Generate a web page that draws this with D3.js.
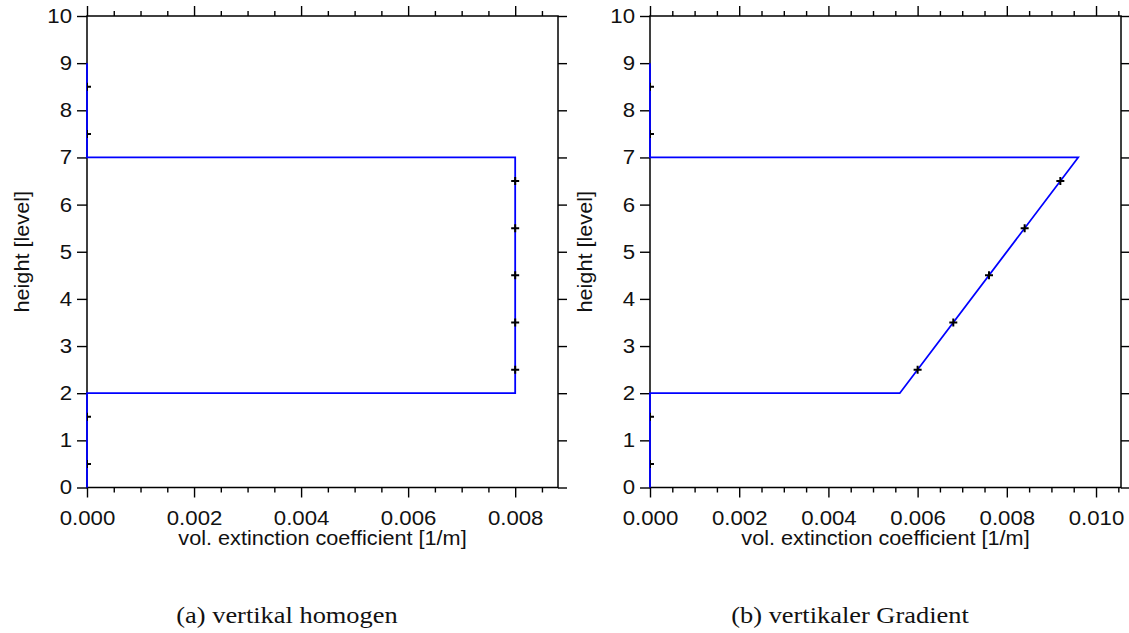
<!DOCTYPE html>
<html>
<head>
<meta charset="utf-8">
<script src="https://cdn.jsdelivr.net/npm/d3@7"></script>
<style>
  html, body { margin: 0; padding: 0; background: #fff; }
  svg { display: block; }
  .tick text { font-family: "Liberation Sans", Arial, Helvetica, sans-serif; }
</style>
</head>
<body>
<svg id="fig" width="1129" height="633"></svg>
<script>
// Height levels and tick values
const heightTicks = [0, 1, 2, 3, 4, 5, 6, 7, 8, 9, 10];
const extTicksA = [0, 0.002, 0.004, 0.006, 0.008];
const extTicksB = [0, 0.002, 0.004, 0.006, 0.008, 0.010];

// Profile outline: levels and extinction at the corners
const profileLevels = [0, 2, 2, 7, 7, 9];
const homogenProfile = [0, 0, 0.008, 0.008, 0, 0];
const gradientProfile = [0, 0, 0.0056, 0.0096, 0, 0];

// Layer mid-points (markers)
const layerLevels = [0.5, 1.5, 2.5, 3.5, 4.5, 5.5, 6.5, 7.5, 8.5];
const homogenLayers = [0, 0, 0.008, 0.008, 0.008, 0.008, 0.008, 0, 0];
const gradientLayers = [0, 0, 0.0060, 0.0068, 0.0076, 0.0084, 0.0092, 0, 0];

const captions = ["(a) vertikal homogen", "(b) vertikaler Gradient"];

const svg = d3.select("#fig");
const plotTop = 16, plotBottom = 487.5, plotW = 471;
const stretch = 1.11; // glyphs are set slightly wide

// widen a text element horizontally by a factor
function widen(sel, k) {
  sel.each(function () {
    const w = this.getComputedTextLength();
    d3.select(this).attr("textLength", w * k).attr("lengthAdjust", "spacingAndGlyphs");
  });
}

const panels = [
  { left: 87, xMax: 0.0088, ticks: extTicksA, profile: homogenProfile, layers: homogenLayers, caption: captions[0], capX: 287 },
  { left: 650, xMax: 0.01056, ticks: extTicksB, profile: gradientProfile, layers: gradientLayers, caption: captions[1], capX: 850 }
];

const fmt = d3.format(".3f");

panels.forEach((p, i) => {
  const x = d3.scaleLinear().domain([0, p.xMax]).range([p.left, p.left + plotW]);
  const y = d3.scaleLinear().domain([0, 10]).range([plotBottom, plotTop]);
  const minor = d3.range(0, p.xMax + 1e-9, 0.0005).filter(v => Math.abs(v / 0.002 - Math.round(v / 0.002)) > 1e-6);

  const g = svg.append("g");

  // minor ticks on bottom and top
  g.append("g").attr("transform", `translate(0,${plotBottom})`)
    .call(d3.axisBottom(x).tickValues(minor).tickSize(5).tickSizeOuter(0).tickFormat(""));
  g.append("g").attr("transform", `translate(0,${plotTop})`)
    .call(d3.axisTop(x).tickValues(minor).tickSize(5).tickSizeOuter(0).tickFormat(""));

  // major ticks
  g.append("g").attr("transform", `translate(0,${plotBottom})`)
    .call(d3.axisBottom(x).tickValues(p.ticks).tickSize(10).tickSizeOuter(0).tickPadding(13).tickFormat(fmt));
  g.append("g").attr("transform", `translate(0,${plotTop})`)
    .call(d3.axisTop(x).tickValues(p.ticks).tickSize(10).tickSizeOuter(0).tickFormat(""));
  g.append("g").attr("transform", `translate(${p.left},0)`)
    .call(d3.axisLeft(y).tickValues(heightTicks).tickSize(10).tickSizeOuter(0).tickPadding(5).tickFormat(d3.format("d")));
  g.append("g").attr("transform", `translate(${p.left + plotW},0)`)
    .call(d3.axisRight(y).tickValues(heightTicks).tickSize(9).tickSizeOuter(0).tickFormat(""));

  g.selectAll(".domain").remove();
  g.selectAll(".tick line").attr("stroke", "#000").attr("stroke-width", 1.4);
  g.selectAll(".tick text").attr("font-size", 20).attr("fill", "#111").call(widen, stretch);

  // plot frame
  g.append("rect")
    .attr("x", p.left).attr("y", plotTop)
    .attr("width", plotW).attr("height", plotBottom - plotTop)
    .attr("fill", "none").attr("stroke", "#000").attr("stroke-width", 1.5);

  // axis titles
  g.append("text")
    .attr("x", p.left + plotW / 2).attr("y", 545)
    .attr("text-anchor", "middle")
    .attr("font-family", "Liberation Sans, Arial, sans-serif")
    .attr("font-size", 19.5).attr("fill", "#111")
    .text("vol. extinction coefficient [1/m]")
    .call(widen, stretch);
  g.append("text")
    .attr("transform", `translate(${p.left - 58},${(plotTop + plotBottom) / 2}) rotate(-90)`)
    .attr("text-anchor", "middle")
    .attr("font-family", "Liberation Sans, Arial, sans-serif")
    .attr("font-size", 19.5).attr("fill", "#111")
    .text("height [level]")
    .call(widen, stretch);

  // profile line
  const pts = profileLevels.map((lv, k) => [p.profile[k], lv]);
  g.append("path")
    .datum(pts)
    .attr("fill", "none").attr("stroke", "#0000ff").attr("stroke-width", 1.8)
    .attr("d", d3.line().x(d => x(d[0])).y(d => y(d[1])));

  // layer markers, clipped to plot area
  const clipId = "clip" + i;
  svg.append("clipPath").attr("id", clipId)
    .append("rect").attr("x", p.left).attr("y", plotTop).attr("width", plotW).attr("height", plotBottom - plotTop);
  const mk = g.append("g").attr("clip-path", `url(#${clipId})`);
  layerLevels.forEach((lv, k) => {
    const cx = x(p.layers[k]), cy = y(lv);
    mk.append("path")
      .attr("d", `M${cx - 4},${cy}H${cx + 4}M${cx},${cy - 4}V${cy + 4}`)
      .attr("stroke", "#000").attr("stroke-width", 2);
  });

  // caption
  svg.append("text")
    .attr("x", p.capX).attr("y", 623)
    .attr("text-anchor", "middle")
    .attr("font-family", "Liberation Serif, DejaVu Serif, serif")
    .attr("font-size", 24).attr("fill", "#111")
    .text(p.caption)
    .call(widen, 1.1);
});
</script>
</body>
</html>
